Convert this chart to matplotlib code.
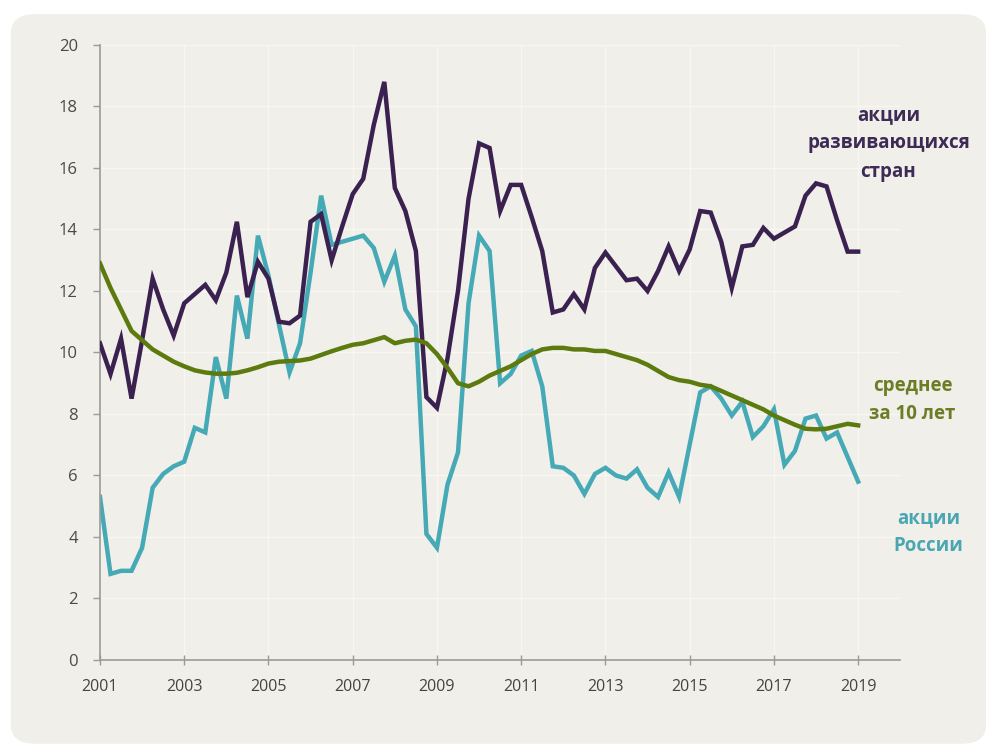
import numpy as np
import matplotlib.pyplot as plt
from matplotlib.patches import FancyBboxPatch

plt.rcParams['font.family'] = ['Open Sans', 'DejaVu Sans']

# квартальные данные, 2001 Q1 - 2019 Q1
quarters = 2001 + np.arange(73) / 4

em_stocks = [10.3, 9.3, 10.45, 8.5, 10.4, 12.4, 11.4, 10.55,
             11.6, 11.9, 12.2, 11.7, 12.6, 14.25, 11.8, 12.95,
             12.4, 11.0, 10.95, 11.2, 14.25, 14.5, 13.0, 14.1,
             15.15, 15.65, 17.4, 18.8, 15.35, 14.6, 13.3, 8.55,
             8.2, 9.8, 12.0, 15.0, 16.8, 16.65, 14.6, 15.45,
             15.45, 14.4, 13.3, 11.3, 11.4, 11.9, 11.4, 12.75,
             13.25, 12.8, 12.35, 12.4, 12.0, 12.65, 13.45, 12.65,
             13.35, 14.6, 14.55, 13.6, 12.1, 13.45, 13.5, 14.05,
             13.7, 13.9, 14.1, 15.1, 15.5, 15.4, 14.3, 13.28,
             13.28]

russia = [5.3, 2.8, 2.9, 2.9, 3.65, 5.6, 6.05, 6.3,
          6.45, 7.55, 7.4, 9.85, 8.5, 11.85, 10.45, 13.8,
          12.5, 10.9, 9.35, 10.3, 12.6, 15.1, 13.5, 13.6,
          13.7, 13.8, 13.4, 12.3, 13.15, 11.4, 10.85, 4.1,
          3.65, 5.7, 6.75, 11.6, 13.8, 13.3, 9.0, 9.3,
          9.9, 10.05, 8.9, 6.3, 6.25, 6.0, 5.4, 6.05,
          6.25, 6.0, 5.9, 6.2, 5.6, 5.3, 6.1, 5.3,
          7.0, 8.7, 8.9, 8.5, 7.95, 8.4, 7.25, 7.6,
          8.15, 6.35, 6.8, 7.85, 7.95, 7.2, 7.4, 6.6,
          5.8]

avg10 = [12.9, 12.1, 11.4, 10.7, 10.4, 10.1, 9.9, 9.7,
         9.55, 9.42, 9.35, 9.31, 9.31, 9.34, 9.42, 9.52,
         9.64, 9.7, 9.72, 9.74, 9.8, 9.92, 10.04, 10.15,
         10.25, 10.3, 10.4, 10.5, 10.3, 10.38, 10.42, 10.3,
         9.95, 9.5, 9.0, 8.9, 9.05, 9.25, 9.4, 9.55,
         9.75, 9.95, 10.1, 10.15, 10.15, 10.1, 10.1, 10.05,
         10.05, 9.95, 9.85, 9.75, 9.6, 9.4, 9.2, 9.1,
         9.05, 8.95, 8.9, 8.75, 8.6, 8.45, 8.3, 8.15,
         7.95, 7.8, 7.65, 7.52, 7.5, 7.52, 7.6, 7.68,
         7.63]

year_ticks = list(range(2001, 2020, 2))
y_ticks = list(range(0, 21, 2))

bg = '#f0efe9'
purple = '#3a2150'
teal = '#45a9b6'
olive = '#5c7a0e'

fig = plt.figure(figsize=(9.88, 7.46), dpi=100)
fig.patch.set_facecolor('white')

# светлая подложка со скруглёнными углами
panel = FancyBboxPatch((0.011, 0.003), 0.987, 0.978,
                       boxstyle='round,pad=0,rounding_size=0.025',
                       transform=fig.transFigure, facecolor=bg,
                       edgecolor='none', zorder=-10)
fig.patches.append(panel)

ax = fig.add_axes([0.1012, 0.1153, 0.81, 0.8244])
ax.set_facecolor('none')

ax.plot(quarters, em_stocks, color=purple, lw=3.2, solid_joinstyle='miter', zorder=3)
ax.plot(quarters, russia, color=teal, lw=3.2, solid_joinstyle='miter', zorder=2)
ax.plot(quarters, avg10, color=olive, lw=3.2, zorder=4)

ax.set_xlim(2001, 2020)
ax.set_ylim(0, 20)
ax.set_xticks(year_ticks)
ax.set_yticks(y_ticks)

ax.grid(True, color='#f8f7f3', lw=1, zorder=0)
ax.set_axisbelow(True)

for side in ['top', 'right']:
    ax.spines[side].set_visible(False)
for side in ['left', 'bottom']:
    ax.spines[side].set_color('#9a9a98')
    ax.spines[side].set_linewidth(1.2)

ax.tick_params(axis='y', length=5, width=1, color='#9a9a98', pad=11,
               labelsize=12, labelcolor='#4a4a4a')
ax.tick_params(axis='x', direction='inout', length=7, width=1, color='#9a9a98',
               pad=10, labelsize=11.5, labelcolor='#444444')

# подписи серий
ax.text(2019.72, 16.8, 'акции\nразвивающихся\nстран', color='#3d2a55',
        fontsize=13.5, fontweight='bold', ha='center', va='center',
        linespacing=1.55, clip_on=False)
ax.text(2020.29, 8.45, 'среднее\nза 10 лет', color='#6b7d25',
        fontsize=13.5, fontweight='bold', ha='center', va='center',
        linespacing=1.55, clip_on=False)
ax.text(2020.67, 4.16, 'акции\nРоссии', color='#4aa6b3',
        fontsize=13.5, fontweight='bold', ha='center', va='center',
        linespacing=1.55, clip_on=False)

fig.savefig('out.png', dpi=100, facecolor=fig.get_facecolor())
